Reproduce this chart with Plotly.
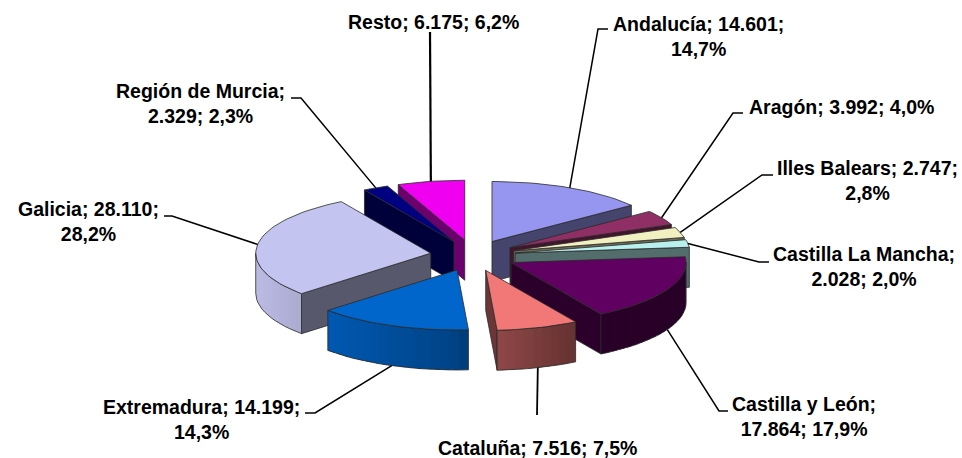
import math
import plotly.graph_objects as go

categories = ["Andalucía", "Aragón", "Illes Balears", "Castilla La Mancha", "Castilla y León",
              "Cataluña", "Extremadura", "Galicia", "Región de Murcia", "Resto"]
values = [14601, 3992, 2747, 2028, 17864, 7516, 14199, 28110, 2329, 6175]
percents = ["14,7%", "4,0%", "2,8%", "2,0%", "17,9%", "7,5%", "14,3%", "28,2%", "2,3%", "6,2%"]

colors = ["#9696F0", "#8F2F65", "#F0F0C0", "#B8F0F0", "#600060",
          "#F27878", "#0066CC", "#C4C4F0", "#000080", "#F000F0"]
draw_order = [0, 9, 1, 8, 2, 3, 7, 4, 6, 5]

# projection of the tilted, exploded pie (pixels of the 962x458 window)
CX, CY, EX, EY, RX, RY, DEPTH = 473, 255.5, 42.7, 15.6, 175, 60, 40

# label layout: where the line breaks, text centre, leader elbow and end
label_break = ["after_value", "none", "after_value", "after_name", "after_name",
               "none", "after_value", "after_value", "after_name", "none"]
label_centre = [(698, 36), (841, 107), (867, 180), (864, 266), (804, 416),
                (537, 448), (201, 419), (88, 221), (200, 103), (433, 22)]
leader_tail = [[(598, 29), (608, 29)], [(733, 113), (743, 113)], [(762, 175), (773, 175)],
               [(759, 262), (769, 262)], [(719, 411), (728, 411)], [(537, 415)],
               [(315, 413), (305, 413)], [(172, 216), (164, 216)], [(301, 98), (291, 98)],
               [(430, 32)]]
leader_width = [1.5, 1.5, 1.5, 1.5, 1.5, 1.8, 1.5, 1.5, 1.5, 2.2]


def shade(hex_color, f):
    r, g, b = (int(hex_color[i:i + 2], 16) for i in (1, 3, 5))
    return f"rgb({r * f:.0f},{g * f:.0f},{b * f:.0f})"


def side_shade(theta):
    s = math.sin(theta)
    return max(0.42, 0.65 - 0.30 * s if s < 0 else 0.62 - 0.40 * s)


total = sum(values)
starts, ends, cum = [], [], 0
for v in values:
    starts.append(cum / total * 2 * math.pi)
    cum += v
    ends.append(cum / total * 2 * math.pi)

apexes = []
for a, b in zip(starts, ends):
    m = (a + b) / 2
    apexes.append((CX + EX * math.sin(m), CY - EY * math.cos(m)))


def rim(i, t):
    return apexes[i][0] + RX * math.sin(t), apexes[i][1] - RY * math.cos(t)


fig = go.Figure()
EDGE = "#2a2a2a"


def poly(points, fill, name, line=EDGE, width=0.8, hover=False):
    xs = [p[0] for p in points] + [points[0][0]]
    ys = [p[1] for p in points] + [points[0][1]]
    fig.add_trace(go.Scatter(x=xs, y=ys, mode="lines", fill="toself", fillcolor=fill,
                             line=dict(color=line, width=width), name=name,
                             showlegend=False, hoverinfo="name" if hover else "skip"))


for i in draw_order:
    a, b, col, name = starts[i], ends[i], colors[i], categories[i]
    ax, ay = apexes[i]
    # cut faces that look towards the viewer
    for t, normal in ((a, a - math.pi / 2), (b, b + math.pi / 2)):
        if math.cos(normal) < 0:
            px, py = rim(i, t)
            poly([(ax, ay), (px, py), (px, py + DEPTH), (ax, ay + DEPTH)], shade(col, 0.45), name)
    # curved outer wall, in small overlapping shaded strips
    lo, hi = max(a, math.pi / 2), min(b, 3 * math.pi / 2)
    if hi > lo:
        n = max(2, int((hi - lo) / math.radians(3)))
        step = (hi - lo) / n
        for k in range(n):
            t0 = lo + step * k
            t1 = min(hi, t0 + step * 1.6)
            c = shade(col, side_shade(t0 + step / 2))
            fine = [t0 + (t1 - t0) * j / 3 for j in range(4)]
            upper = [rim(i, t) for t in fine]
            lower = [(x, y + DEPTH) for x, y in reversed(upper)]
            poly(upper + lower, c, name, line="rgba(0,0,0,0)", width=0)
        ts = [lo + step * k for k in range(n + 1)]
        top = [rim(i, t) for t in ts]
        bottom = [(x, y + DEPTH) for x, y in reversed(top)]
        outline = top + bottom + [top[0]]
        fig.add_trace(go.Scatter(x=[p[0] for p in outline], y=[p[1] for p in outline], mode="lines",
                                 line=dict(color=EDGE, width=0.8), showlegend=False, hoverinfo="skip"))
    # top face
    n = max(2, int((b - a) / math.radians(2)))
    arc = [rim(i, a + (b - a) * k / n) for k in range(n + 1)]
    poly([(ax, ay)] + arc, col, name, hover=True)

annotations = []
for i, name in enumerate(categories):
    a, b = starts[i], ends[i]
    m = (a + b) / 2
    x0, y0 = rim(i, m)
    if math.cos(m) < 0:
        y0 += DEPTH
    pts = [(x0, y0)] + leader_tail[i]
    fig.add_trace(go.Scatter(x=[p[0] for p in pts], y=[p[1] for p in pts], mode="lines",
                             line=dict(color="black", width=leader_width[i]),
                             showlegend=False, hoverinfo="skip"))
    num = f"{values[i]:,}".replace(",", ".")
    sep1 = ";<br>" if label_break[i] == "after_name" else "; "
    sep2 = ";<br>" if label_break[i] == "after_value" else "; "
    text = f"{name}{sep1}{num}{sep2}{percents[i]}"
    lx, ly = label_centre[i]
    annotations.append(dict(x=lx, y=ly, xref="x", yref="y", text=f"<b>{text}</b>", showarrow=False,
                            align="center", xanchor="center", yanchor="middle",
                            font=dict(family="Liberation Sans", size=19.5, color="black")))

fig.update_layout(
    width=962, height=458, margin=dict(l=0, r=0, t=0, b=0),
    paper_bgcolor="white", plot_bgcolor="white", showlegend=False,
    xaxis=dict(range=[0, 962], visible=False, fixedrange=True),
    yaxis=dict(range=[458, 0], visible=False, fixedrange=True),
    annotations=annotations,
)
fig.write_html("out.html", config={"displayModeBar": False},
               post_script="document.body.style.margin='0';document.body.style.overflow='hidden';")
